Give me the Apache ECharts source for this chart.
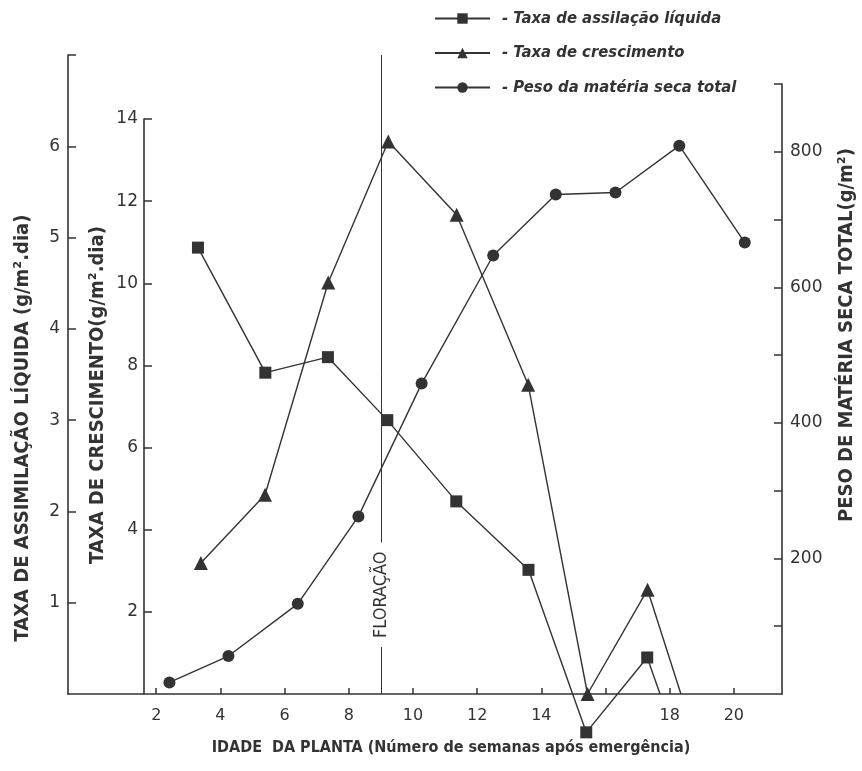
<!DOCTYPE html>
<html><head><meta charset="utf-8">
<script src="https://cdn.jsdelivr.net/npm/echarts@6/dist/echarts.min.js"></script>
<style>html,body{margin:0;padding:0;background:#fff}#c{width:862px;height:771px}</style>
</head><body><div id="c"></div>
<script>
// ---- data ----
const weeksTAL  = [3.3, 5.4, 7.35, 9.2, 11.35, 13.6, 15.4, 17.3, 17.7];
const valuesTAL = [4.89, 3.52, 3.69, 3.0, 2.11, 1.36, -0.42, 0.40, 0];
const markedTAL = 8; // last point is an unmarked line end

const weeksTC  = [3.39, 5.39, 7.36, 9.23, 11.36, 13.59, 15.44, 17.31, 18.35];
const valuesTC = [3.19, 4.85, 10.02, 13.45, 11.67, 7.53, 0, 2.54, 0];
const markedTC = 8;

const weeksPMS  = [2.41, 4.25, 6.41, 8.3, 10.27, 12.5, 14.45, 16.31, 18.3, 20.34];
const valuesPMS = [17, 56, 133, 262, 458, 647, 737, 740, 809, 666];
const markedPMS = 10;

const xTicks = [2, 4, 6, 8, 10, 12, 14, 16, 18, 20];
const xLabels = [2, 4, 6, 8, 10, 12, 14, 18, 20];
const talTicks = [1, 2, 3, 4, 5, 6, 7];
const talLabels = [1, 2, 3, 4, 5, 6];
const tcTicks = [2, 4, 6, 8, 10, 12, 14];
const tcLabels = [2, 4, 6, 8, 10, 12, 14];
const pmsTicks = [100, 200, 300, 400, 500, 600, 700, 800, 900];
const pmsLabels = [200, 400, 600, 800];
const floracao = 9;

const seriesNames = ['- Taxa de assilação líquida', '- Taxa de crescimento', '- Peso da matéria seca total'];

// ---- styling ----
const INK = '#333333';
const NARROW = "'Liberation Sans Narrow','DejaVu Sans Condensed','Roboto Condensed',sans-serif";
const NUMF = "'DejaVu Sans',sans-serif";

function build(weeks, vals, marked) {
  return weeks.map((w, i) => i < marked ? [w, vals[i]] : { value: [w, vals[i]], symbol: 'none' });
}

const gridBase = { left: 68, right: 80, bottom: 77 };
const xBase = {
  type: 'value', min: -0.75, max: 21.5,
  splitLine: { show: false }
};

const chart = echarts.init(document.getElementById('c'), null, { renderer: 'canvas' });
chart.setOption({
  backgroundColor: '#ffffff',
  animation: false,
  legend: {
    orient: 'vertical', left: 429, top: 5,
    itemWidth: 55, itemHeight: 13, itemGap: 17.5,
    data: seriesNames,
    textStyle: { color: INK, fontSize: 16.5, fontStyle: 'italic', fontWeight: 'bold', fontFamily: NARROW, padding: [0, 0, 0, 7] },
    selectedMode: false
  },
  grid: [
    Object.assign({ top: 55 }, gridBase),
    Object.assign({ top: 119 }, gridBase),
    Object.assign({ top: 84 }, gridBase)
  ],
  xAxis: [
    Object.assign({}, xBase, {
      gridIndex: 0,
      axisLine: { show: true, onZero: false, lineStyle: { color: INK, width: 1.6 } },
      axisTick: { show: true, inside: true, length: 6, customValues: xTicks, lineStyle: { color: INK, width: 1.5 } },
      axisLabel: { show: true, customValues: xLabels, margin: 14, color: INK, fontSize: 16, fontFamily: NUMF }
    }),
    Object.assign({}, xBase, { gridIndex: 1, show: false }),
    Object.assign({}, xBase, { gridIndex: 2, show: false })
  ],
  yAxis: [
    {
      type: 'value', gridIndex: 0, position: 'left', min: 0, max: 7,
      splitLine: { show: false },
      axisLine: { show: true, onZero: false, lineStyle: { color: INK, width: 1.6 } },
      axisTick: { show: true, inside: true, length: 8, customValues: talTicks, lineStyle: { color: INK, width: 1.5 } },
      axisLabel: { customValues: talLabels, margin: 8, color: INK, fontSize: 17, fontFamily: NUMF }
    },
    {
      type: 'value', gridIndex: 1, position: 'left', offset: -76, min: 0, max: 14,
      splitLine: { show: false },
      axisLine: { show: true, onZero: false, lineStyle: { color: INK, width: 1.6 } },
      axisTick: { show: true, inside: true, length: 8, customValues: tcTicks, lineStyle: { color: INK, width: 1.5 } },
      axisLabel: { customValues: tcLabels, margin: 6, color: INK, fontSize: 17, fontFamily: NUMF }
    },
    {
      type: 'value', gridIndex: 2, position: 'right', min: 0, max: 900,
      splitLine: { show: false },
      axisLine: { show: true, onZero: false, lineStyle: { color: INK, width: 1.6 } },
      axisTick: { show: true, inside: true, length: 8, customValues: pmsTicks, lineStyle: { color: INK, width: 1.5 } },
      axisLabel: { customValues: pmsLabels, margin: 8, color: INK, fontSize: 17, fontFamily: NUMF }
    }
  ],
  series: [
    {
      name: seriesNames[0], type: 'line', xAxisIndex: 0, yAxisIndex: 0,
      data: build(weeksTAL, valuesTAL, markedTAL),
      symbol: 'rect', symbolSize: 12, clip: false,
      lineStyle: { color: INK, width: 1.4 }, itemStyle: { color: INK },
      markLine: {
        silent: true, symbol: ['none', 'none'],
        lineStyle: { color: INK, width: 1, type: 'solid' },
        label: {
          show: true, formatter: 'FLORAÇÃO', position: 'insideStart', distance: 47,
          backgroundColor: '#ffffff', padding: [2, 9],
          color: INK, fontSize: 18, fontFamily: NARROW
        },
        data: [{ xAxis: floracao }]
      },
      z: 3
    },
    {
      name: seriesNames[1], type: 'line', xAxisIndex: 1, yAxisIndex: 1,
      data: build(weeksTC, valuesTC, markedTC),
      symbol: 'triangle', symbolSize: 14, clip: false,
      lineStyle: { color: INK, width: 1.4 }, itemStyle: { color: INK },
      z: 3
    },
    {
      name: seriesNames[2], type: 'line', xAxisIndex: 2, yAxisIndex: 2,
      data: build(weeksPMS, valuesPMS, markedPMS),
      symbol: 'circle', symbolSize: 12, clip: false,
      lineStyle: { color: INK, width: 1.4 }, itemStyle: { color: INK },
      z: 3
    }
  ],
  graphic: [
    { type: 'text', x: 23, y: 428, rotation: Math.PI / 2,
      style: { text: 'TAXA DE ASSIMILAÇÃO LÍQUIDA (g/m².dia)', align: 'center', verticalAlign: 'middle', fill: INK, font: "bold 20px " + NARROW } },
    { type: 'text', x: 98, y: 395, rotation: Math.PI / 2,
      style: { text: 'TAXA DE CRESCIMENTO(g/m².dia)', align: 'center', verticalAlign: 'middle', fill: INK, font: "bold 20px " + NARROW } },
    { type: 'text', x: 847, y: 335, rotation: Math.PI / 2,
      style: { text: 'PESO DE MATÉRIA SECA TOTAL(g/m²)', align: 'center', verticalAlign: 'middle', fill: INK, font: "bold 20px " + NARROW } },
    { type: 'text', x: 451, y: 748,
      style: { text: 'IDADE  DA PLANTA (Número de semanas após emergência)', align: 'center', verticalAlign: 'middle', fill: INK, font: "bold 16px " + NARROW } }
  ]
});
</script>
</body></html>
